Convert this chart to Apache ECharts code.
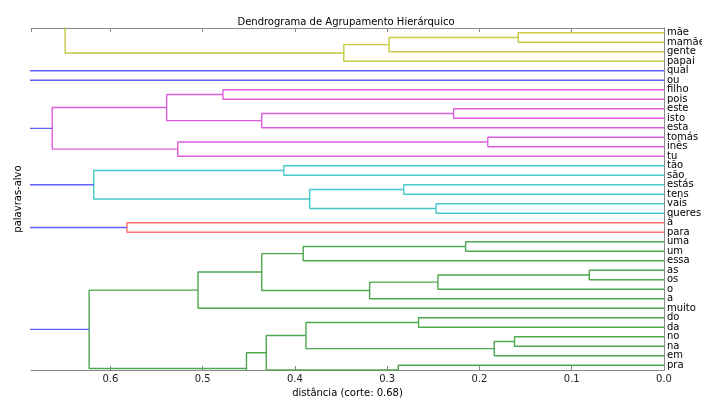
<!DOCTYPE html>
<html>
<head>
<meta charset="utf-8">
<script src="https://cdn.jsdelivr.net/npm/echarts@6/dist/echarts.min.js"></script>
<style>
html,body{margin:0;padding:0;background:#fff;}
#chart{width:702px;height:399px;}
</style>
</head>
<body>
<div id="chart"></div>
<script>
// Leaf labels, top to bottom
const leaves = ['mãe','mamãe','gente','papai','qual','ou','filho','pois','este','isto','esta','tomás','inês','tu','tão','são','estás','tens','vais','queres','à','para','uma','um','essa','as','os','o','a','muito','do','da','no','na','em','pra'];

// x-axis ticks
const xTicks = [0.0, 0.1, 0.2, 0.3, 0.4, 0.5, 0.6];
const xMax = 0.686;

// merges: [childA, childB, distance]; child = leaf name, '#k' (earlier merge in same group),
// or a number = off-axis leaf slot (clipped, not visible)
const yellowMerges = [['mãe','mamãe',0.158],['#0','gente',0.298],['#1','papai',0.347],['#2',-4,0.649]];
const magentaMerges = [['filho','pois',0.478],['este','isto',0.228],['#1','esta',0.436],['#0','#2',0.539],['tomás','inês',0.191],['#4','tu',0.527],['#3','#5',0.663]];
const cyanMerges = [['tão','são',0.412],['estás','tens',0.282],['vais','queres',0.247],['#1','#2',0.384],['#0','#3',0.618]];
const redMerges = [['à','para',0.582]];
const greenMerges = [['uma','um',0.215],['#0','essa',0.391],['as','os',0.081],['#2','o',0.245],['#3','a',0.319],['#1','#4',0.436],['#5','muito',0.505],['do','da',0.266],['no','na',0.162],['#8','em',0.184],['#7','#9',0.388],['pra',36,0.288],['#10','#11',0.431],['#12',37,0.4525],['#6','#13',0.623]];

const groups = [
  {merges: yellowMerges, color: '#c8c842'},
  {merges: magentaMerges, color: '#dc5edc'},
  {merges: cyanMerges, color: '#46c8c8'},
  {merges: redMerges, color: '#ff7070'},
  {merges: greenMerges, color: '#4ea84e'}
];
const blueColor = '#6060ff';

const nLeaves = leaves.length;
const slotY = i => 5 + 10 * (nLeaves - 1 - i);

const series = [];
const roots = [];
groups.forEach(g => {
  const nodes = [];
  const resolve = c => {
    if (typeof c === 'number') return {y: slotY(c), h: 0};
    if (c[0] === '#') return nodes[parseInt(c.slice(1))];
    return {y: slotY(leaves.indexOf(c)), h: 0};
  };
  g.merges.forEach(m => {
    const a = resolve(m[0]), b = resolve(m[1]), d = m[2];
    series.push({
      type: 'line', xAxisIndex: 0, yAxisIndex: 0, symbol: 'none', clip: true, animation: false,
      lineStyle: {color: g.color, width: 1.4},
      data: [[a.h, a.y], [d, a.y], [d, b.y], [b.h, b.y]]
    });
    nodes.push({y: (a.y + b.y) / 2, h: d});
  });
  roots.push(nodes[nodes.length - 1]);
});
// singleton leaves joining above the cut
['qual','ou'].forEach(n => roots.push({y: slotY(leaves.indexOf(n)), h: 0}));
roots.forEach(r => {
  series.push({
    type: 'line', xAxisIndex: 0, yAxisIndex: 0, symbol: 'none', clip: true, animation: false,
    lineStyle: {color: blueColor, width: 1.4},
    data: [[r.h, r.y], [xMax * 1.2, r.y]]
  });
});

const spine = '#8a8a8a';
const font = 'DejaVu Sans';
const chart = echarts.init(document.getElementById('chart'), null, {renderer: 'canvas'});
chart.setOption({
  animation: false,
  backgroundColor: '#fff',
  title: {
    text: 'Dendrograma de Agrupamento Hierárquico',
    left: 341, top: 12, textAlign: 'center',
    textStyle: {fontFamily: font, fontSize: 10, fontWeight: 'normal', color: '#000'}
  },
  grid: {left: 31, right: 38, top: 28, bottom: 29, containLabel: false, outerBoundsMode: 'none'},
  xAxis: [
    {
      type: 'value', position: 'bottom', inverse: true, min: 0, max: xMax, interval: 0.1,
      name: 'distância (corte: 0.68)', nameLocation: 'middle', nameGap: 18,
      nameTextStyle: {fontFamily: font, fontSize: 10, color: '#000'},
      axisLine: {show: true, lineStyle: {color: spine, width: 1}},
      axisTick: {show: true, inside: true, length: 4, lineStyle: {color: spine}},
      axisLabel: {show: true, fontFamily: font, fontSize: 10, color: '#222', margin: 4,
        showMaxLabel: false,
        formatter: v => { const t = xTicks.find(x => Math.abs(x - v) < 1e-6); return t === undefined ? '' : t.toFixed(1); }},
      splitLine: {show: false}
    },
    {
      type: 'value', position: 'top', inverse: true, min: 0, max: xMax, interval: 0.1,
      axisLine: {show: true, lineStyle: {color: spine, width: 1}},
      axisTick: {show: true, inside: true, length: 4, lineStyle: {color: spine}},
      axisLabel: {show: false},
      splitLine: {show: false}
    }
  ],
  yAxis: [
    {
      type: 'value', position: 'left', min: 0, max: 10 * nLeaves,
      name: 'palavras-alvo', nameLocation: 'middle', nameGap: 8, nameRotate: 90,
      nameTextStyle: {fontFamily: font, fontSize: 10, color: '#000'},
      axisLine: {show: true, lineStyle: {color: spine, width: 1}},
      axisTick: {show: false}, axisLabel: {show: false}, splitLine: {show: false}
    },
    {
      type: 'category', position: 'right', data: leaves, inverse: true, boundaryGap: true,
      axisLine: {show: true, lineStyle: {color: spine, width: 1}},
      axisTick: {show: false},
      axisLabel: {interval: 0, fontFamily: font, fontSize: 10, color: '#000', margin: 3},
      splitLine: {show: false}
    }
  ],
  series: series
});
</script>
</body>
</html>
